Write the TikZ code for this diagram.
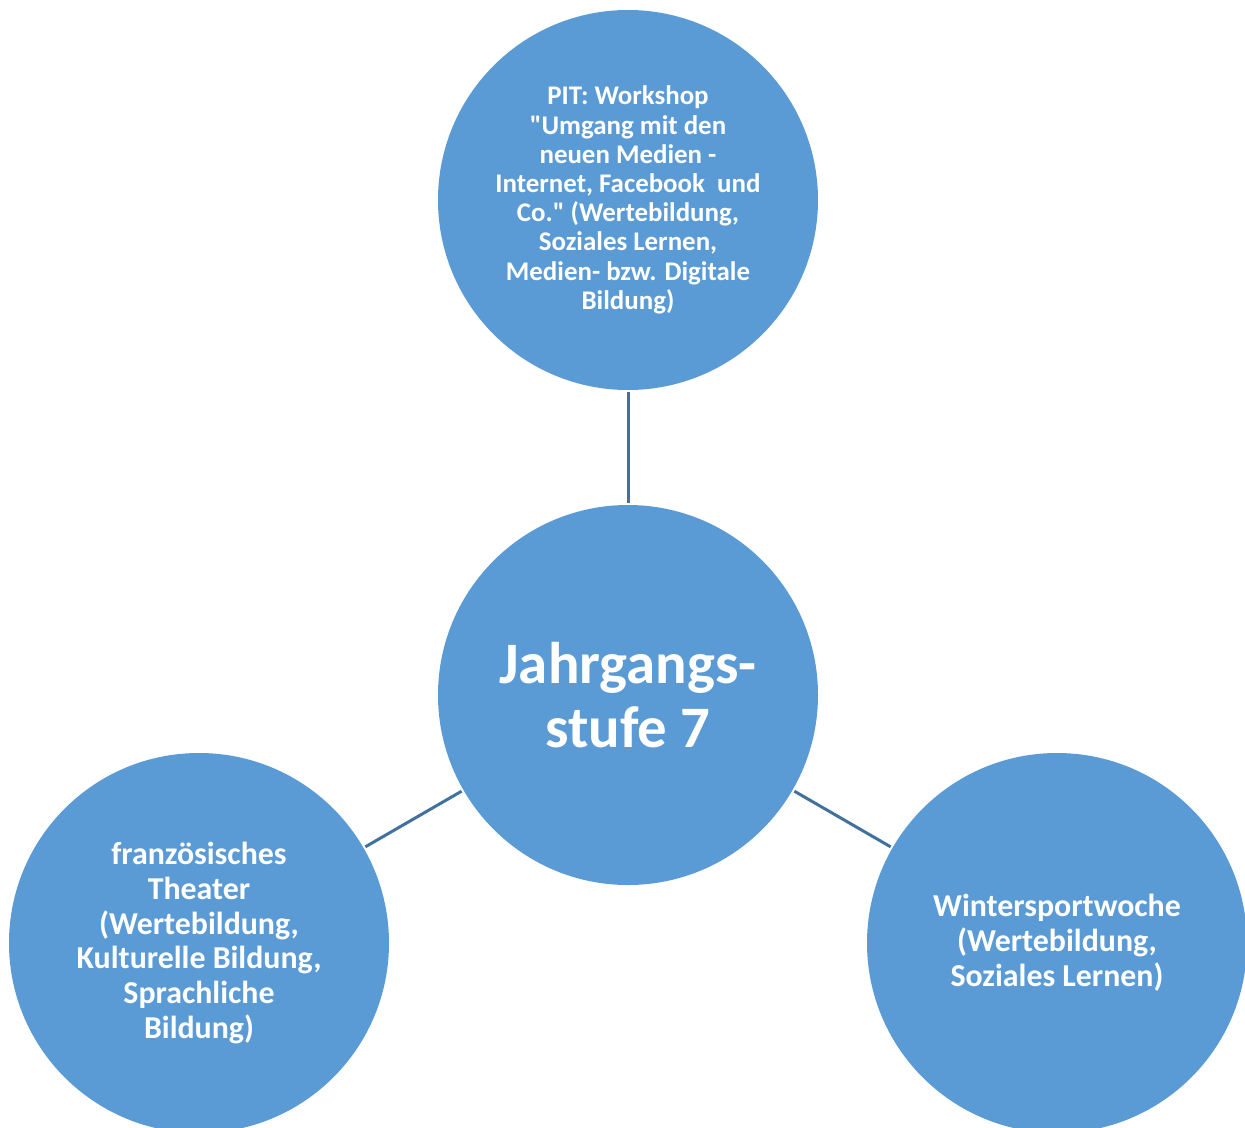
\documentclass[tikz,border=0pt]{standalone}
\usepackage{fontspec}
\setmainfont{Carlito}
\usetikzlibrary{positioning}
\definecolor{kreis}{HTML}{5B9BD5}
\definecolor{linie}{HTML}{41719C}
\tikzset{
  kr/.style   ={circle, fill=kreis, inner sep=0pt, minimum size=380bp, text=white, align=center, font=\bfseries},
  klein/.style={font=\fontsize{27}{29.3}\selectfont\bfseries},
  mittel/.style={font=\fontsize{32}{35}\selectfont\bfseries},
  gross/.style={font=\fontsize{59}{65}\selectfont\bfseries},
  vb/.style   ={draw=linie, line width=3bp, shorten <=2bp, shorten >=2bp}
}
\begin{document}
\begin{tikzpicture}[x=1bp, y=-1bp]
\useasboundingbox (0,0) rectangle (1245,1128);
\node[kr, gross] (hub) at (628,695) {Jahrgangs-\\stufe 7};
\node[kr, klein] (pit) at (628,200) {PIT: Workshop\\\textquotedbl Umgang mit den\\neuen Medien -\\Internet, Facebook\ \ und\\Co.\textquotedbl\ (Wertebildung,\\Soziales Lernen,\\Medien- bzw. Digitale\\Bildung)};
\node[kr, mittel] (theater) at (199,943) {französisches\\Theater\\(Wertebildung,\\Kulturelle Bildung,\\Sprachliche\\Bildung)};
\node[kr, mittel] (winter) at (1057,943) {Wintersportwoche\\(Wertebildung,\\Soziales Lernen)};
% Verbindungen
\draw[vb] (pit) -- (hub);
\draw[vb] (hub) -- (theater);
\draw[vb] (hub) -- (winter);
\end{tikzpicture}
\end{document}
